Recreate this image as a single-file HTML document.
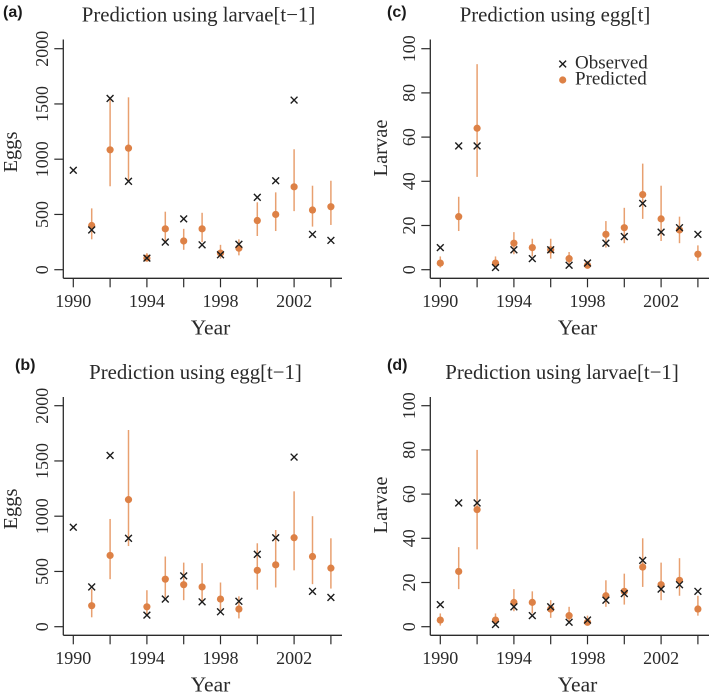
<!DOCTYPE html>
<html lang="en">
<head>
<meta charset="utf-8">
<title>Egg and larvae predictions</title>
<style>
html,body{margin:0;padding:0;background:#fff;width:709px;height:698px;overflow:hidden}
svg{display:block;filter:blur(0.3px)}
text{font-family:"Liberation Serif",serif;fill:#2a2a2a}
.lab{font-family:"Liberation Sans",sans-serif;font-weight:bold;font-size:16px;fill:#1a1a1a}
</style>
</head>
<body>
<svg id="fig" xmlns="http://www.w3.org/2000/svg" width="709" height="698" viewBox="0 0 709 698"></svg>
<script>
const years = [1990,1991,1992,1993,1994,1995,1996,1997,1998,1999,2000,2001,2002,2003,2004];
const xTickYears = [1990,1992,1994,1996,1998,2000,2002,2004];
const xLabelYears = [1990,1994,1998,2002];
const eggTicks = [0,500,1000,1500,2000];
const larvaeTicks = [0,20,40,60,80,100];

const observedEggs = [900,360,1550,800,105,250,460,225,135,230,655,805,1535,320,265];
const observedLarvae = [10,56,56,1,9,5,9,2,3,12,15,30,17,19,16];

const predA = [null,400,1085,1100,105,370,260,370,150,195,445,500,750,540,570];
const lowA  = [null,275,755,800,75,250,180,250,100,130,305,350,530,390,405];
const highA = [null,555,1550,1560,150,525,370,515,225,275,610,700,1090,760,805];

const predB = [null,190,645,1150,180,430,380,360,250,160,510,560,805,635,530];
const lowB  = [null,85,430,730,105,265,240,225,150,75,335,355,510,385,345];
const highB = [null,340,975,1780,330,635,580,575,400,275,755,875,1225,1000,800];

const predC = [3,24,64,3,12,10,9,5,2,16,19,34,23,18,7];
const lowC  = [1,17.5,42,1,7,6,5,2.5,1,10,12,23,13,12,4];
const highC = [6,33,93,6,17,14,14,8,4,22,28,48,38,24,11];

const predD = [3,25,53,3,11,11,8,5,2,14,16,27,19,21,8];
const lowD  = [0.5,17,35,1,7,6,4,2,1,9,10,18,12,14,5];
const highD = [6,36,80,6,17,16,12,9,5,21,24,40,29,31,14];

const NS = 'http://www.w3.org/2000/svg';
const fig = document.getElementById('fig');
const DOT = '#dd8146', BAR = '#e8a070', INK = '#1c1c1c', AXIS = '#2b2b2b';

function make(parent, tag, attrs, txt){
  const el = document.createElementNS(NS, tag);
  for (const k in attrs) el.setAttribute(k, attrs[k]);
  if (txt !== undefined) el.textContent = txt;
  parent.appendChild(el);
  return el;
}

function drawPanel(p){
  const g = make(fig, 'g', {});
  
  
  const xOf = y => p.x0 + (y - 1990) * p.dx;
  const yOf = v => p.y0 - v * (p.y0 - p.yTop) / p.yMax;

  const label = make(g, 'text', {x:p.labX, y:p.labY, class:'lab'}, '(' + p.key + ')');
  
  

  const title = make(g, 'text', {x:p.titleX, y:p.titleY, 'text-anchor':'middle', 'font-size':'20.8'}, p.title);
  
  

  const xAxis = make(g, 'line', {x1:p.axX, x2:p.axR, y1:p.axY, y2:p.axY, stroke:AXIS, 'stroke-width':1.3});
  
  

  const yAxis = make(g, 'line', {x1:p.axX, x2:p.axX, y1:p.axT, y2:p.axY, stroke:AXIS, 'stroke-width':1.3});
  
  

  xTickYears.forEach(y => {
    const t = make(g, 'line', {x1:xOf(y), x2:xOf(y), y1:p.axY, y2:p.axY + 9, stroke:AXIS, 'stroke-width':1.2});
    
    
  });
  xLabelYears.forEach(y => {
    const t = make(g, 'text', {x:xOf(y), y:p.axY + 28.5, 'text-anchor':'middle', 'font-size':'18'}, y);
    
    
  });
  p.ticks.forEach(v => {
    const t = make(g, 'line', {x1:p.axX - 9, x2:p.axX, y1:yOf(v), y2:yOf(v), stroke:AXIS, 'stroke-width':1.2});
    
    
    const lx = p.axX - 15.5;
    const l = make(g, 'text', {x:lx, y:yOf(v), 'text-anchor':'middle', 'font-size':'18', transform:'rotate(-90 ' + lx + ' ' + yOf(v) + ')'}, v);
    
    
  });

  const xt = make(g, 'text', {x:p.xTitleX, y:p.axY + 56, 'text-anchor':'middle', 'font-size':'21.5'}, 'Year');
  
  

  const yt = make(g, 'text', {x:p.yTitleX, y:p.yTitleY, 'text-anchor':'middle', 'font-size':'20.5', transform:'rotate(-90 ' + p.yTitleX + ' ' + p.yTitleY + ')'}, p.yTitle);
  
  

  years.forEach((y, i) => {
    if (p.pred[i] === null) return;
    const b = make(g, 'line', {x1:xOf(y), x2:xOf(y), y1:yOf(p.low[i]), y2:yOf(p.high[i]), stroke:BAR, 'stroke-width':1.5});
    
    
    const c = make(g, 'circle', {cx:xOf(y), cy:yOf(p.pred[i]), r:3.6, fill:DOT});
    
    
  });
  years.forEach((y, i) => {
    const cx = xOf(y), cy = yOf(p.obs[i]), s = 3.4;
    const m = make(g, 'path', {d:'M' + (cx - s) + ' ' + (cy - s) + 'L' + (cx + s) + ' ' + (cy + s) + 'M' + (cx - s) + ' ' + (cy + s) + 'L' + (cx + s) + ' ' + (cy - s), stroke:INK, 'stroke-width':1.4, fill:'none'});
    
    
  });
}

drawPanel({key:'a', title:'Prediction using larvae[t\u22121]', yTitle:'Eggs', ticks:eggTicks, yMax:2000,
  x0:73.3, dx:18.4, y0:269.7, yTop:48.7, axX:63.3, axR:342, axY:278.3, axT:39.5,
  labX:3, labY:17, titleX:198.5, titleY:21.5, xTitleX:210.5, yTitleX:17, yTitleY:152,
  obs:observedEggs, pred:predA, low:lowA, high:highA});
drawPanel({key:'c', title:'Prediction using egg[t]', yTitle:'Larvae', ticks:larvaeTicks, yMax:100,
  x0:440.3, dx:18.4, y0:269.7, yTop:48.7, axX:430.3, axR:709, axY:278.3, axT:39.5,
  labX:387, labY:17, titleX:555, titleY:21.5, xTitleX:577.5, yTitleX:387, yTitleY:148,
  obs:observedLarvae, pred:predC, low:lowC, high:highC});
drawPanel({key:'b', title:'Prediction using egg[t\u22121]', yTitle:'Eggs', ticks:eggTicks, yMax:2000,
  x0:73.3, dx:18.4, y0:626.7, yTop:405.7, axX:63.3, axR:342, axY:635.3, axT:397,
  labX:15, labY:370, titleX:195.5, titleY:379, xTitleX:210.5, yTitleX:17, yTitleY:509,
  obs:observedEggs, pred:predB, low:lowB, high:highB});
drawPanel({key:'d', title:'Prediction using larvae[t\u22121]', yTitle:'Larvae', ticks:larvaeTicks, yMax:100,
  x0:440.3, dx:18.4, y0:626.7, yTop:405.7, axX:430.3, axR:709, axY:635.3, axT:397,
  labX:387, labY:370, titleX:562, titleY:379, xTitleX:577.5, yTitleX:387, yTitleY:505,
  obs:observedLarvae, pred:predD, low:lowD, high:highD});

const legend = make(fig, 'g', {});


const lm = make(legend, 'path', {d:'M559.3 60.6L566.1 67.4M559.3 67.4L566.1 60.6', stroke:INK, 'stroke-width':1.4, fill:'none'});


const lt1 = make(legend, 'text', {x:575, y:68.5, 'font-size':'19'}, 'Observed');


const lc = make(legend, 'circle', {cx:562.7, cy:80, r:3.6, fill:DOT});


const lt2 = make(legend, 'text', {x:575, y:84.5, 'font-size':'19'}, 'Predicted');


</script>
</body>
</html>
